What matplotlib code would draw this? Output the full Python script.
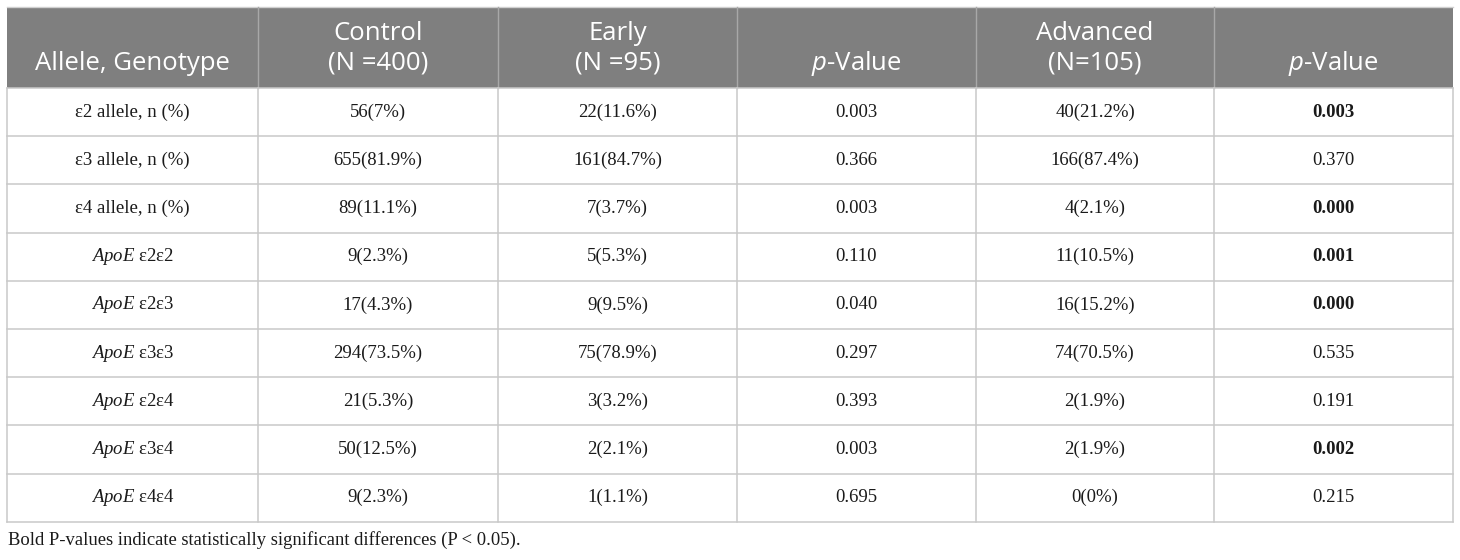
import matplotlib
matplotlib.use("Agg")
import matplotlib.pyplot as plt

# table contents
headers = [("", "Allele, Genotype"), ("Control", "(N =400)"), ("Early", "(N =95)"),
           ("", r"$\mathsf{p}$-Value"), ("Advanced", "(N=105)"), ("", r"$\mathsf{p}$-Value")]
labels = ["ε2 allele, n (%)", "ε3 allele, n (%)", "ε4 allele, n (%)",
          r"$\mathit{ApoE}$ ε2ε2", r"$\mathit{ApoE}$ ε2ε3", r"$\mathit{ApoE}$ ε3ε3",
          r"$\mathit{ApoE}$ ε2ε4", r"$\mathit{ApoE}$ ε3ε4", r"$\mathit{ApoE}$ ε4ε4"]
control = ["56(7%)", "655(81.9%)", "89(11.1%)", "9(2.3%)", "17(4.3%)",
           "294(73.5%)", "21(5.3%)", "50(12.5%)", "9(2.3%)"]
early = ["22(11.6%)", "161(84.7%)", "7(3.7%)", "5(5.3%)", "9(9.5%)",
         "75(78.9%)", "3(3.2%)", "2(2.1%)", "1(1.1%)"]
p_early = ["0.003", "0.366", "0.003", "0.110", "0.040", "0.297", "0.393", "0.003", "0.695"]
advanced = ["40(21.2%)", "166(87.4%)", "4(2.1%)", "11(10.5%)", "16(15.2%)",
            "74(70.5%)", "2(1.9%)", "2(1.9%)", "0(0%)"]
p_adv = ["0.003", "0.370", "0.000", "0.001", "0.000", "0.535", "0.191", "0.002", "0.215"]
note = "Bold P-values indicate statistically significant differences (P < 0.05)."

plt.rcParams["mathtext.fontset"] = "custom"
plt.rcParams["mathtext.it"] = "Liberation Serif:italic"
plt.rcParams["mathtext.rm"] = "Liberation Serif"
plt.rcParams["mathtext.sf"] = "Open Sans:italic"

fig = plt.figure(figsize=(14.6, 5.6), dpi=100)
ax = fig.add_axes([0, 0, 1, 1])
ax.set_xlim(0, 1460)
ax.set_ylim(560, 0)
ax.axis("off")

col_x = [7, 258, 498, 737, 976, 1214, 1453]
head_top, head_bot = 7, 88
row_h = 48.2
n = len(labels)
bottom = head_bot + n * row_h
grid = "#c9c9c9"

ax.add_patch(plt.Rectangle((col_x[0], head_top), col_x[-1] - col_x[0], head_bot - head_top,
                           facecolor="#7f7f7f", edgecolor="none"))
ax.plot([col_x[0], col_x[-1]], [head_top, head_top], color="#d0d0d0", lw=1)
for x in col_x[1:-1]:
    ax.plot([x, x], [head_top, head_bot], color="#a8a8a8", lw=1)
for x in col_x:
    ax.plot([x, x], [head_bot, bottom], color=grid, lw=1.1)
for i in range(n + 1):
    y = head_bot + i * row_h
    ax.plot([col_x[0], col_x[-1]], [y, y], color=grid, lw=1.1)

for j, (l1, l2) in enumerate(headers):
    cx = (col_x[j] + col_x[j + 1]) / 2
    if l1:
        ax.text(cx, 34, l1, ha="center", va="center", color="white",
                fontsize=18.5, family="Open Sans")
    ax.text(cx, 63, l2, ha="center", va="center", color="white",
            fontsize=18.5, family="Open Sans")

columns = [labels, control, early, p_early, advanced, p_adv]
for j, col in enumerate(columns):
    cx = (col_x[j] + col_x[j + 1]) / 2
    for i, val in enumerate(col):
        cy = head_bot + (i + 0.5) * row_h
        weight = "normal"
        if j == 5 and float(val) < 0.05:
            weight = "bold"
        ax.text(cx, cy, val, ha="center", va="center", color="#1a1a1a",
                fontsize=13.5, family="Liberation Serif", fontweight=weight)

ax.text(col_x[0] + 1, 540, note, ha="left", va="center", color="#1a1a1a",
        fontsize=13.4, family="Liberation Serif")

fig.savefig("out.png", dpi=100)
